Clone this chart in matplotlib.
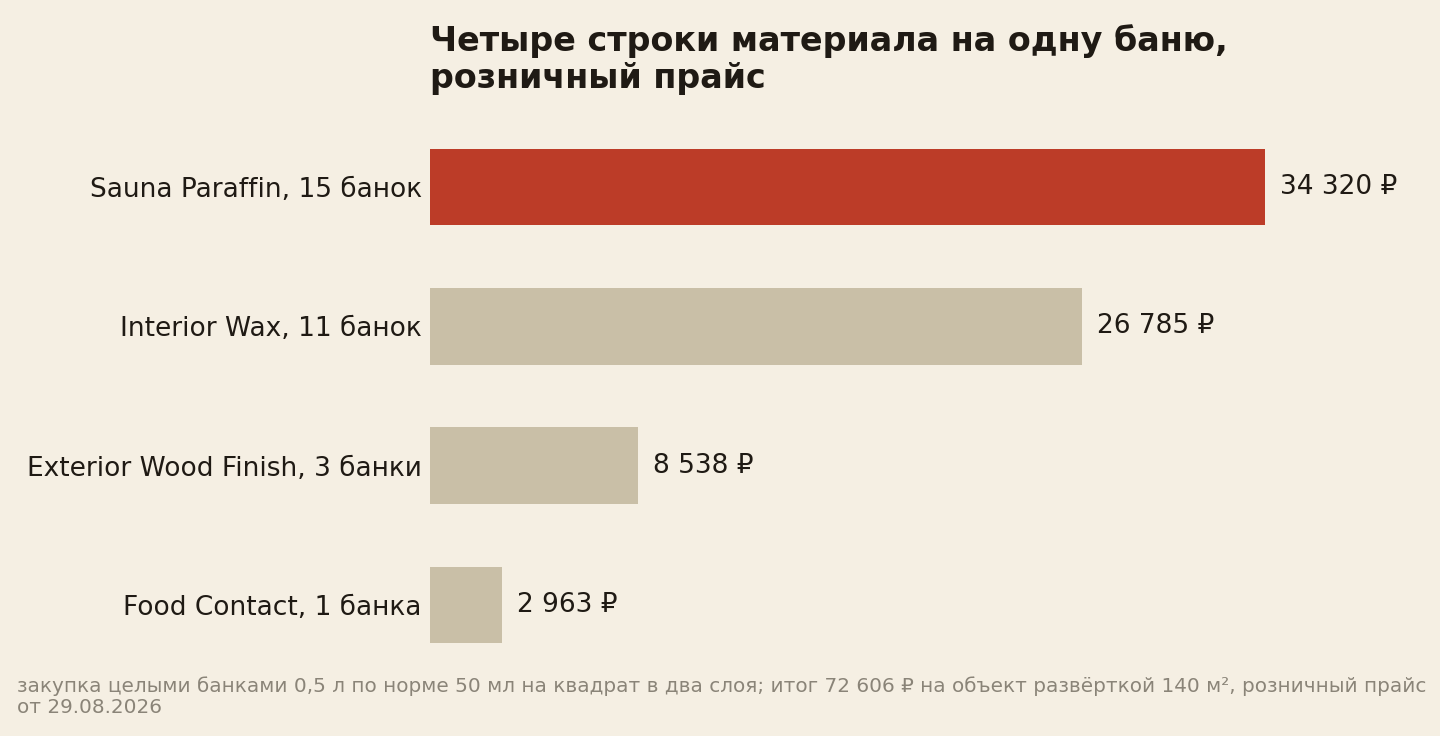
import matplotlib
matplotlib.use("Agg")
import matplotlib.pyplot as plt

categories = ["Sauna Paraffin, 15 банок", "Interior Wax, 11 банок",
              "Exterior Wood Finish, 3 банки", "Food Contact, 1 банка"]
values = [34320, 26785, 8538, 2963]
value_labels = ["34 320 ₽", "26 785 ₽", "8 538 ₽", "2 963 ₽"]
title = "Четыре строки материала на одну баню,\nрозничный прайс"
footnote = ("закупка целыми банками 0,5 л по норме 50 мл на квадрат в два слоя; итог 72 606 ₽ "
            "на объект развёрткой 140 м², розничный прайс\nот 29.08.2026")

BG = "#f5efe3"
RED = "#bc3c28"
BEIGE = "#c9bfa7"
TEXT = "#1f1a14"
GRAY = "#8a8478"

plt.rcParams['font.family'] = ['DejaVu Sans']

fig = plt.figure(figsize=(14.4, 7.36), dpi=100, facecolor=BG)
W, H = 1440, 736
ax = fig.add_axes([430 / W, 1 - 674.65 / H, 973.6 / W, 557.3 / H])
ax.set_facecolor(BG)

ypos = list(range(len(values)))
colors = [RED] + [BEIGE] * (len(values) - 1)
ax.barh(ypos, values, height=0.55, color=colors)
ax.set_xlim(0, 40000)
ax.set_ylim(len(values) - 0.5, -0.5)

for y, v, lab in zip(ypos, values, value_labels):
    ax.annotate(lab, xy=(v, y), xytext=(15, 0), textcoords="offset pixels",
                va="center", ha="left", fontsize=19, color=TEXT)
ax.set_yticks(ypos)
ax.set_yticklabels(categories, fontsize=19, color=TEXT)
ax.tick_params(axis="y", length=0, pad=6)
ax.set_xticks([])
for s in ax.spines.values():
    s.set_visible(False)

fig.text(430 / W, 1 - 24 / H, title, ha="left", va="top", fontsize=24,
         fontweight="bold", color=TEXT, linespacing=1.15)
fig.text(17 / W, 1 - 676 / H, footnote, ha="left", va="top", fontsize=14.4,
         color=GRAY, linespacing=1.18)

fig.savefig("out.png", dpi=100, facecolor=BG)
